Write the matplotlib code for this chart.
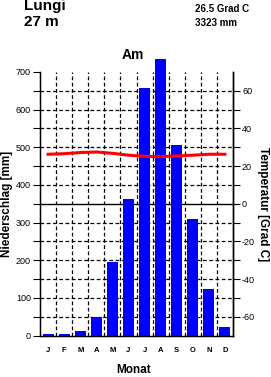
import matplotlib
matplotlib.use("Agg")
import matplotlib.pyplot as plt
import numpy as np

months = ["J", "F", "M", "A", "M", "J", "J", "A", "S", "O", "N", "D"]
precip = [3, 5, 11, 49, 196, 363, 657, 734, 507, 310, 124, 23]
temp = [26.3, 26.6, 27.2, 27.5, 26.8, 25.8, 25.2, 25.0, 25.4, 25.8, 26.3, 26.3]
station = "Lungi"
elev = "27 m"
mean_t = "26.5 Grad C"
total_p = "3323 mm"
climate = "Am"

plt.rcParams['font.family'] = ['Liberation Sans', 'DejaVu Sans']

W, H = 271, 377
fig = plt.figure(figsize=(W/100, H/100), dpi=100)
ax = fig.add_axes([40/W, 1-335.5/H, 193/W, 263.5/H])

x = np.arange(12)
ax.bar(x, precip, width=0.68, color='#0000ff', zorder=3, clip_on=False)
ax.set_xlim(-0.5, 11.5)
ax.set_ylim(0, 700)

# grid
for yv in range(50, 700, 50):
    if yv == 350:
        ax.axhline(yv, color='black', lw=1.0, zorder=2)
    else:
        ax.axhline(yv, color='black', lw=0.9, ls=(0, (3, 2)), zorder=2)
for xv in np.arange(0.5, 11.5, 1):
    ax.axvline(xv, color='black', lw=0.9, ls=(0, (3, 2)), zorder=2)

ax.set_yticks(range(0, 701, 50))
ax.set_yticklabels([str(v) if v % 100 == 0 else "" for v in range(0, 701, 50)],
                   fontsize=6.5)
ax.tick_params(axis='y', direction='out', length=5, width=0.8, pad=1.5)
ax.set_xticks(x)
ax.set_xticklabels(months, fontsize=5.5, fontweight='bold')
ax.tick_params(axis='x', length=0, pad=8)
ax.spines['top'].set_visible(False)
ax.spines['bottom'].set_linewidth(1.0)
ax.spines['left'].set_linewidth(1.0)
ax.spines['right'].set_linewidth(1.0)

ax2 = ax.twinx()
ax2.set_ylim(-70, 70)
ax2.plot(x, temp, color='#ff0000', lw=2.2, zorder=4)
ax2.set_yticks(range(-60, 61, 10))
ax2.set_yticklabels([str(v) if v % 20 == 0 else "" for v in range(-60, 61, 10)],
                    fontsize=6.5)
ax2.tick_params(axis='y', direction='out', length=5, width=0.8, pad=1.5)
ax2.spines['top'].set_visible(False)
ax2.spines['right'].set_linewidth(1.0)

ax.set_ylabel("Niederschlag [mm]", fontsize=8.5, fontweight='bold', labelpad=2)
ax2.set_ylabel("Temperatur [Grad C]", fontsize=8.5, fontweight='bold',
               rotation=-90, labelpad=10)

fig.text(24/W, 1-6/H, station, fontsize=11, fontweight='bold', va='center', ha='left')
fig.text(24/W, 1-22/H, elev, fontsize=11, fontweight='bold', va='center', ha='left')
fig.text(195/W, 1-9/H, mean_t, fontsize=7, fontweight='bold', va='center', ha='left')
fig.text(195/W, 1-23/H, total_p, fontsize=7, fontweight='bold', va='center', ha='left')
fig.text(133/W, 1-55/H, climate, fontsize=10, fontweight='bold', va='center', ha='center')
fig.text(134/W, 1-370/H, "Monat", fontsize=8.5, fontweight='bold', va='center', ha='center')

fig.savefig("out.png", dpi=100)
